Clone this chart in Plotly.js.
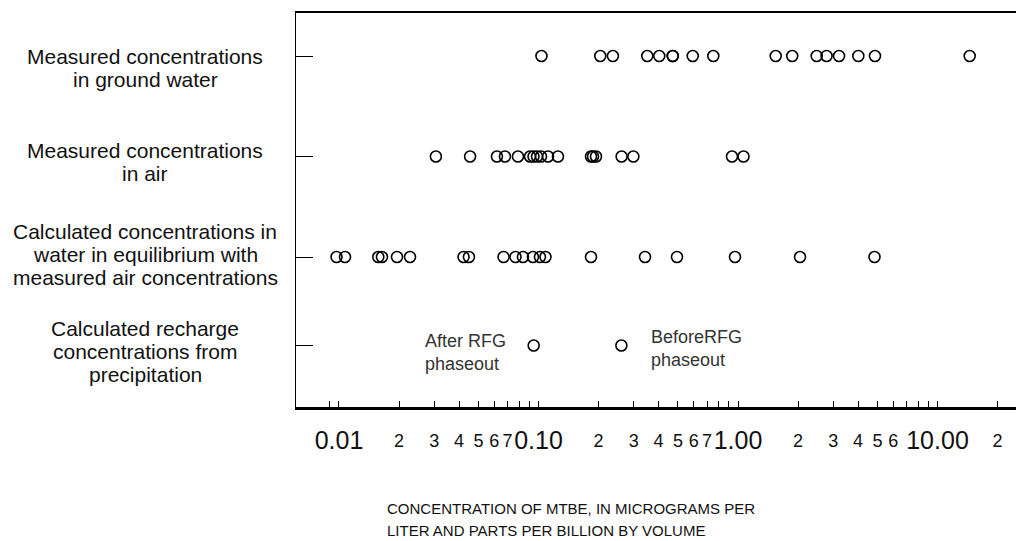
<!DOCTYPE html>
<html>
<head>
<meta charset="utf-8">
<script src="https://cdn.plot.ly/plotly-3.0.1.min.js"></script>
<style>html,body{margin:0;padding:0;background:#fff;}#chart{width:1016px;height:541px;}</style>
</head>
<body>
<div id="chart"></div>
<script>
// ---- data ----
const categories = [
  'Measured concentrations<br>in ground water',
  'Measured concentrations<br>in air',
  'Calculated concentrations in<br>water in equilibrium with<br>measured air concentrations',
  'Calculated recharge<br>concentrations from<br>precipitation'
];
const groundWater = [0.1035, 0.204, 0.236, 0.351, 0.403, 0.471, 0.471, 0.593, 0.752, 1.545, 1.87, 2.48, 2.78, 3.21, 4.01, 4.86, 14.5];
const air = [0.0306, 0.0454, 0.0619, 0.0679, 0.0789, 0.0907, 0.0944, 0.0983, 0.1029, 0.1116, 0.1252, 0.1833, 0.1876, 0.1942, 0.261, 0.299, 0.933, 1.066];
const equilibrium = [0.00972, 0.01072, 0.01574, 0.01642, 0.01953, 0.0227, 0.0421, 0.0448, 0.0668, 0.0767, 0.0836, 0.0938, 0.1017, 0.1084, 0.1833, 0.342, 0.4945, 0.966, 2.046, 4.833];
const recharge = [0.0946, 0.2603];
const rechargeLabels = ['After RFG<br>phaseout', 'BeforeRFG<br>phaseout'];
const minorTickVals = [0.009, 0.01, 0.02, 0.03, 0.04, 0.05, 0.06, 0.07, 0.08, 0.09,
  0.1, 0.2, 0.3, 0.4, 0.5, 0.6, 0.7, 0.8, 0.9,
  1, 2, 3, 4, 5, 6, 7, 8, 9, 10, 20];
const minorTickText = ['', '', '2', '3', '4', '5', '6', '7', '', '',
  '', '2', '3', '4', '5', '6', '7', '', '',
  '', '2', '3', '4', '5', '6', '', '', '', '', '2'];
const majorTickVals = [0.01, 0.1, 1, 10];
const majorTickText = ['0.01', '0.10', '1.00', '10.00'];
const xTitle = 'CONCENTRATION OF MTBE, IN MICROGRAMS PER<br>LITER AND PARTS PER BILLION BY VOLUME';

// ---- layout constants ----
const rowPos = [4, 3, 2, 1.12];
const labelOffsetPx = [12, 5, -3, 6];
const lineGap = 23;
const series = [groundWater, air, equilibrium, recharge];
const regular = '"Liberation Sans", Arial, Helvetica, sans-serif';

const traces = series.map((vals, i) => ({
  type: 'scatter', mode: 'markers', x: vals, y: vals.map(() => rowPos[i]),
  xaxis: 'x', yaxis: 'y', hoverinfo: 'skip', showlegend: false,
  marker: {symbol: 'circle-open', size: 11, color: '#000', line: {width: 1.6, color: '#000'}}
}));
// invisible trace to activate overlay axis
traces.push({type: 'scatter', mode: 'markers', x: [1], y: [rowPos[0]], xaxis: 'x2', yaxis: 'y',
  marker: {opacity: 0}, hoverinfo: 'skip', showlegend: false});

const xr = [-2.2155, 1.3935];
const annotations = [];
categories.forEach((c, i) => {
  const lines = c.split('<br>');
  const n = lines.length;
  lines.forEach((ln, j) => {
    annotations.push({
      text: ln, xref: 'paper', x: -0.2097, xanchor: 'center',
      yref: 'y', y: rowPos[i], yanchor: 'middle',
      yshift: -labelOffsetPx[i] - (j - (n - 1) / 2) * lineGap,
      showarrow: false, font: {family: regular, size: 21, color: '#111'}
    });
  });
});
recharge.forEach((v, i) => {
  annotations.push({
    text: rechargeLabels[i], xref: 'x', x: Math.log10(v), yref: 'y', y: rowPos[3],
    xanchor: i === 0 ? 'right' : 'left', xshift: i === 0 ? -26 : 28,
    yanchor: 'middle', yshift: i === 0 ? -7 : -3, align: 'left', showarrow: false,
    font: {family: regular, size: 18, color: '#333'}
  });
});
xTitle.split('<br>').forEach((ln, j) => {
  annotations.push({
    text: ln, xref: 'paper', x: (385 - 296) / 720, xanchor: 'left', align: 'left',
    yref: 'paper', y: -(519 - 407) / 394, yanchor: 'middle', yshift: 11 - j * 22,
    showarrow: false, font: {family: regular, size: 15, color: '#111'}
  });
});

const layout = {
  width: 1016, height: 541,
  margin: {l: 296, r: 0, t: 13, b: 134, pad: 0},
  paper_bgcolor: '#fff', plot_bgcolor: '#fff',
  showlegend: false,
  xaxis: {
    type: 'log', range: xr, showgrid: false, zeroline: false,
    showline: true, linewidth: 2.5, linecolor: '#000', mirror: true,
    ticks: 'inside', ticklen: 6, tickwidth: 1, tickcolor: '#000',
    tickmode: 'array', tickvals: minorTickVals, ticktext: minorTickText,
    tickfont: {family: regular, size: 18, color: '#111'}, ticklabelstandoff: 16
  },
  xaxis2: {
    type: 'log', range: xr, overlaying: 'x', anchor: 'y', side: 'bottom',
    showgrid: false, zeroline: false, showline: false, ticks: '',
    tickmode: 'array', tickvals: majorTickVals, ticktext: majorTickText,
    tickfont: {family: regular, size: 25, color: '#111'}, ticklabelstandoff: 16
  },
  yaxis: {
    range: [0.508, 4.428], showgrid: false, zeroline: false,
    showline: true, linewidth: 1.5, linecolor: '#000',
    ticks: 'inside', ticklen: 17, tickwidth: 1, tickcolor: '#000',
    tickmode: 'array', tickvals: rowPos, showticklabels: false
  },
  annotations: annotations
};
Plotly.newPlot('chart', traces, layout, {displayModeBar: false, staticPlot: true});
</script>
</body>
</html>
